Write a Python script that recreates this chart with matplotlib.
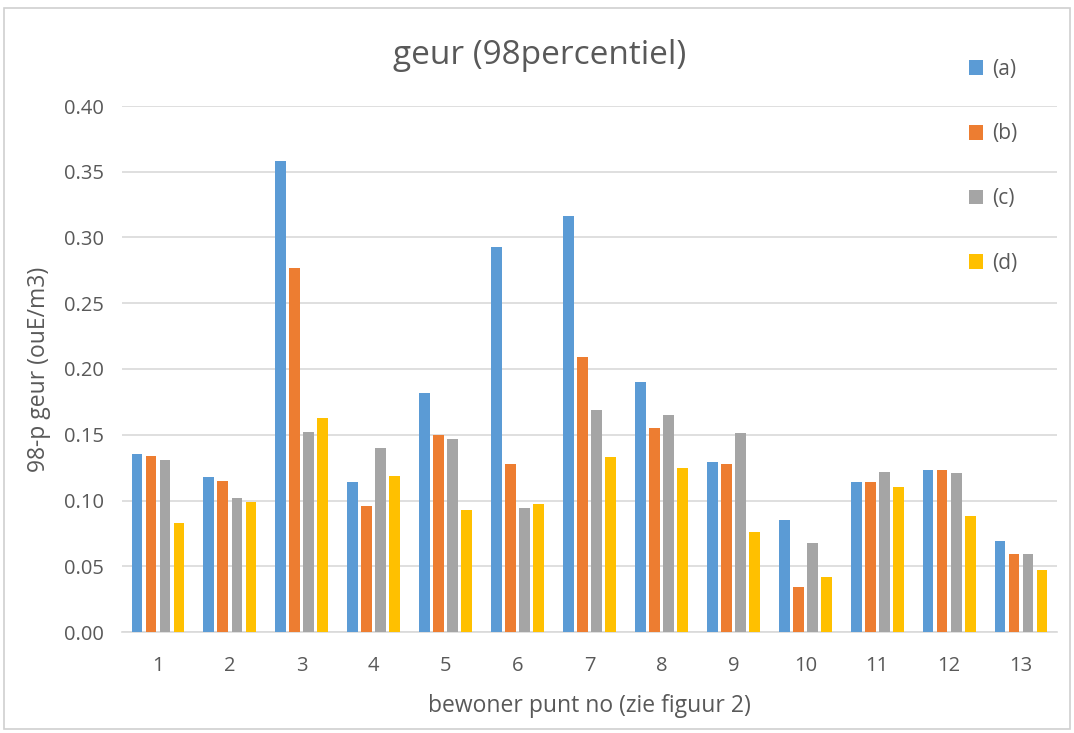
import numpy as np
import matplotlib
matplotlib.use("Agg")
import matplotlib.pyplot as plt
from matplotlib.patches import Rectangle

# values
punten = [str(i) for i in range(1, 14)]
serie_a = [0.135, 0.118, 0.358, 0.114, 0.182, 0.293, 0.316, 0.190, 0.129, 0.085, 0.114, 0.123, 0.069]
serie_b = [0.134, 0.115, 0.277, 0.096, 0.150, 0.128, 0.209, 0.155, 0.128, 0.034, 0.114, 0.123, 0.059]
serie_c = [0.131, 0.102, 0.152, 0.140, 0.147, 0.094, 0.169, 0.165, 0.151, 0.068, 0.122, 0.121, 0.059]
serie_d = [0.083, 0.099, 0.163, 0.119, 0.093, 0.097, 0.133, 0.125, 0.076, 0.042, 0.110, 0.088, 0.047]
labels = ["(a)", "(b)", "(c)", "(d)"]
kleuren = ["#5B9BD5", "#ED7D31", "#A5A5A5", "#FFC000"]

plt.rcParams['font.family'] = ['Open Sans', 'DejaVu Sans']
tekst = "#595959"

fig = plt.figure(figsize=(10.74, 7.33), dpi=100)
ax = fig.add_axes([122 / 1074, 1 - 632 / 733, (1057 - 122) / 1074, (632 - 106) / 733])

# gray frame around the whole chart
fig.patches.append(Rectangle((4 / 1074, 4 / 733), 1 - 8 / 1074, 1 - 12 / 733,
                             transform=fig.transFigure, fill=False,
                             edgecolor="#d0d0d0", linewidth=1.2))

x = np.arange(1, 14)
pitch = 0.195
breedte = 0.15
for k, (vals, lab, kl) in enumerate(zip([serie_a, serie_b, serie_c, serie_d], labels, kleuren)):
    ax.bar(x + (k - 1.5) * pitch, vals, width=breedte, color=kl, label=lab, zorder=3)

ax.set_xlim(0.5, 13.5)
ax.set_ylim(0, 0.40)
ax.set_yticks(np.arange(0, 0.41, 0.05))
ax.set_yticklabels([f"{v:.2f}" for v in np.arange(0, 0.41, 0.05)])
ax.set_xticks(x)
ax.set_xticklabels(punten)
ax.yaxis.grid(True, color="#d9d9d9", linewidth=1.2, zorder=0)
ax.set_axisbelow(True)
for s in ["top", "right", "left"]:
    ax.spines[s].set_visible(False)
ax.spines["bottom"].set_color("#d9d9d9")
ax.spines["bottom"].set_linewidth(1.2)
ax.tick_params(axis="both", length=0, labelsize=14.5, colors=tekst)
ax.tick_params(axis="y", pad=13)
ax.tick_params(axis="x", pad=17)

ax.set_ylabel("98-p geur (ouE/m3)", fontsize=16.5, color=tekst, labelpad=9)
ax.set_xlabel("bewoner punt no (zie figuur 2)", fontsize=16.5, color=tekst, labelpad=13)
fig.text(540 / 1074, 1 - 55 / 733, "geur (98percentiel)", ha="center", va="center",
         fontsize=24, color=tekst)

fig.legend(loc="upper left", bbox_to_anchor=(950 / 1074, 1 - 40 / 733), frameon=False,
           fontsize=15, labelcolor=tekst, handlelength=0.7, handleheight=0.7,
           handletextpad=0.4, labelspacing=2.1)

fig.savefig("out.png", dpi=100)
